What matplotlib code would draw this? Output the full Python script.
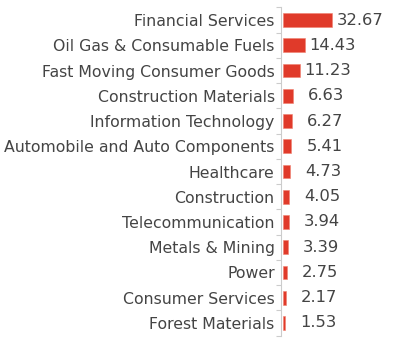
import matplotlib
matplotlib.use('Agg')
import matplotlib.pyplot as plt
import numpy as np

# sector weights (%)
sectors = ['Financial Services', 'Oil Gas & Consumable Fuels', 'Fast Moving Consumer Goods',
           'Construction Materials', 'Information Technology', 'Automobile and Auto Components',
           'Healthcare', 'Construction', 'Telecommunication', 'Metals & Mining', 'Power',
           'Consumer Services', 'Forest Materials']
weights = [32.67, 14.43, 11.23, 6.63, 6.27, 5.41, 4.73, 4.05, 3.94, 3.39, 2.75, 2.17, 1.53]

plt.rcParams['font.family'] = ['DejaVu Sans']

W, H = 415, 351
fig = plt.figure(figsize=(W / 100, H / 100), dpi=100)
left, right = 283, 415
top, bottom = 7.4, 335.6
ax = fig.add_axes([left / W, 1 - bottom / H, (right - left) / W, (bottom - top) / H])

y = np.arange(len(sectors))
ax.barh(y, weights, height=0.55, color='#e03a2a', edgecolor='#f08070', linewidth=0.4)

ax.set_xlim(0, (right - left) / 1.49)
ax.set_ylim(len(sectors) - 0.5, -0.5)

for yi, v in zip(y, weights):
    ax.annotate(f'{v:.2f}', (v, yi), xytext=(37, 0), textcoords='offset points',
                ha='right', va='center', fontsize=11.8, color='#444444')

ax.set_yticks(y)
ax.set_yticklabels(sectors)
ax.set_yticks(np.arange(len(sectors) + 1) - 0.5, minor=True)
ax.tick_params(axis='y', which='major', length=0, pad=4.5, labelsize=11.3,
               labelcolor='#444444')
ax.tick_params(axis='y', which='minor', length=3.5, color='#cccccc', width=0.8)
ax.set_xticks([])
for s in ['top', 'right', 'bottom']:
    ax.spines[s].set_visible(False)
ax.spines['left'].set_color('#cccccc')
ax.spines['left'].set_linewidth(0.8)
ax.spines['left'].set_position(('outward', 1.5))

fig.savefig('out.png', dpi=100)
